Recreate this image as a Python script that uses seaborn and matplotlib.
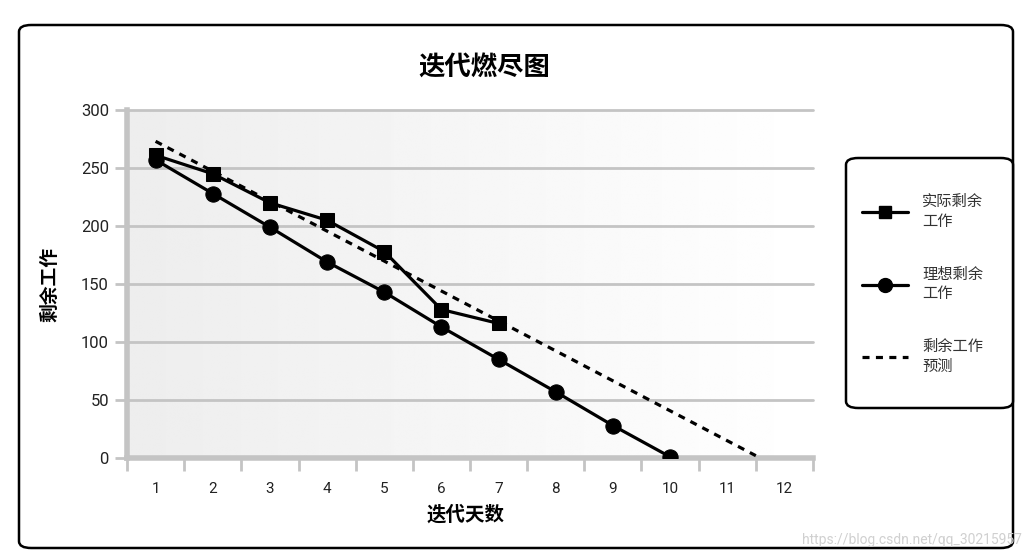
import numpy as np
import pandas as pd
import matplotlib
matplotlib.use("Agg")
import matplotlib.pyplot as plt
import seaborn as sns
from matplotlib.patches import FancyBboxPatch
from matplotlib.lines import Line2D

# ---- data ----
days = [1, 2, 3, 4, 5, 6, 7, 8, 9, 10, 11, 12]
actual_days = [1, 2, 3, 4, 5, 6, 7]
actual_remaining = [261, 245, 220, 205, 178, 128, 116]
ideal_days = [1, 2, 3, 4, 5, 6, 7, 8, 9, 10]
ideal_remaining = [257, 228, 199, 169, 143, 113, 85, 57, 28, 1]
forecast_days = [1, 11.5]
forecast_remaining = [273, 2]
y_ticks = [0, 50, 100, 150, 200, 250, 300]

title = "迭代燃尽图"
x_label = "迭代天数"
y_label = "剩余工作"
labels = ["实际剩余\n工作", "理想剩余\n工作", "剩余工作\n预测"]
watermark = "https://blog.csdn.net/qq_30215957"

sns.set_theme(style="white")
plt.rcParams['font.family'] = ['Noto Sans CJK SC', 'DejaVu Sans']

W, H = 1024, 558
fig = plt.figure(figsize=(W / 100, H / 100), dpi=100)
fig.patch.set_facecolor("white")

def fx(px):
    return px / W

def fy(py):
    return 1 - py / H

# outer frame
frame = FancyBboxPatch((fx(19), fy(548)), fx(1013) - fx(19), fy(25) - fy(548),
                       boxstyle="round,pad=0,rounding_size=0.012",
                       transform=fig.transFigure, facecolor="white",
                       edgecolor="black", linewidth=1.8, zorder=-5)
fig.patches.append(frame)

ax = fig.add_axes([fx(127), fy(458), fx(813) - fx(127), fy(110) - fy(458)])
ax.set_zorder(1)
ax.patch.set_alpha(0)

# gradient background
grad = np.linspace(0.93, 1.0, 256).reshape(1, -1)
grad = np.vstack([grad, grad])
ax.imshow(grad, cmap="gray", vmin=0, vmax=1, aspect="auto",
          extent=(0.5, 12.5, 0, 300), zorder=-2, interpolation="bilinear")

grid_c = "#c4c4c4"
for yv in y_ticks[1:]:
    ax.axhline(yv, color=grid_c, lw=2.0, zorder=0.5, clip_on=False)

sns.lineplot(x=forecast_days, y=forecast_remaining, ax=ax, color="black",
             lw=2.3, linestyle=(0, (2.2, 2.0)), zorder=3)
sns.lineplot(x=ideal_days, y=ideal_remaining, ax=ax, color="black", lw=2.3,
             marker="o", markersize=11, markeredgecolor="black", zorder=4)
sns.lineplot(x=actual_days, y=actual_remaining, ax=ax, color="black", lw=2.3,
             marker="s", markersize=10, markeredgecolor="black", zorder=5)
ax.set_xlim(0.5, 12.5)
ax.set_ylim(0, 300)

# axes styling
for s in ["top", "right"]:
    ax.spines[s].set_visible(False)
ax.spines["left"].set_color(grid_c)
ax.spines["left"].set_linewidth(4)
ax.spines["bottom"].set_color(grid_c)
ax.spines["bottom"].set_linewidth(4)
ax.spines["left"].set_zorder(1)
ax.spines["bottom"].set_zorder(1)

num_font = ['Roboto', 'DejaVu Sans']
ax.set_xticks(days)
ax.set_xticklabels([str(d) for d in days], fontsize=11, family=num_font, color="#222222")
ax.set_xticks(np.arange(0.5, 12.6, 1), minor=True)
ax.tick_params(axis="x", which="both", bottom=True)
ax.tick_params(axis="x", which="major", length=0, pad=17)
ax.tick_params(axis="x", which="minor", length=9, width=2, color=grid_c, direction="out")
ax.set_yticks(y_ticks)
ax.set_yticklabels([str(v) for v in y_ticks], fontsize=12, family=num_font, color="#222222")
ax.tick_params(axis="y", which="major", left=True, length=9, width=2, color=grid_c, pad=4)

ax.set_xlabel("")
ax.set_ylabel("")

fig.text(fx(484), fy(68), title, ha="center", va="center", fontsize=19,
         fontweight="bold", color="black")
fig.text(fx(466), fy(515), x_label, ha="center", va="center", fontsize=14,
         fontweight="bold", color="black")
fig.text(fx(50), fy(285), y_label, ha="center", va="center", fontsize=13.5,
         fontweight="bold", rotation=90, color="black")

# legend box
lbox = FancyBboxPatch((fx(846), fy(408)), fx(1013) - fx(846), fy(158) - fy(408),
                      boxstyle="round,pad=0,rounding_size=0.012",
                      transform=fig.transFigure, facecolor="white",
                      edgecolor="black", linewidth=1.8, zorder=2)
fig.patches.append(lbox)

handles = [
    Line2D([], [], color="black", lw=2.3, marker="s", markersize=9),
    Line2D([], [], color="black", lw=2.3, marker="o", markersize=10),
    Line2D([], [], color="black", lw=2.3, linestyle=(0, (2.2, 2.0))),
]
leg = fig.legend(handles, labels, loc="upper left",
                 bbox_to_anchor=(fx(862), fy(193)), frameon=False,
                 fontsize=11, handlelength=3.0, handletextpad=0.95,
                 labelspacing=2.35, borderpad=0, borderaxespad=0)
leg.set_zorder(6)
for t in leg.get_texts():
    t.set_color("#333333")

fig.text(fx(1022), fy(540), watermark, ha="right", va="center", fontsize=10,
         family=num_font, color="#d0d0d0")

fig.savefig("out.png", dpi=100)
